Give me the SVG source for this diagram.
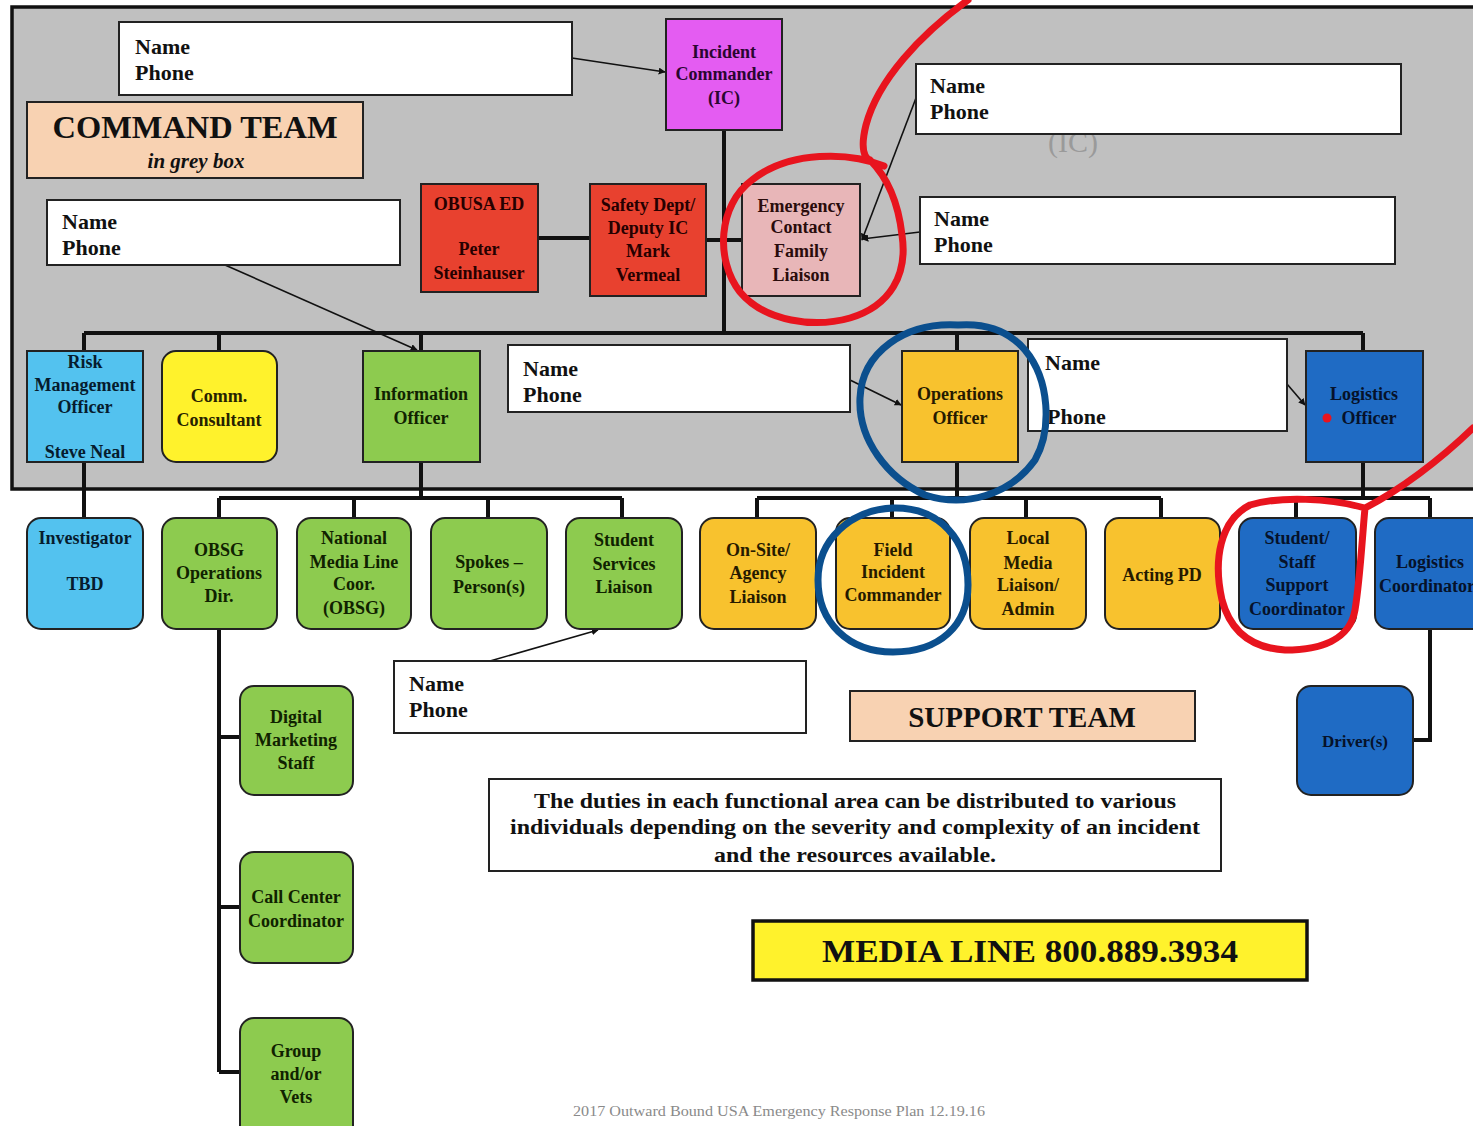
<svg xmlns="http://www.w3.org/2000/svg" width="1473" height="1126" viewBox="0 0 1473 1126">
<defs>
<marker id="ah" viewBox="0 0 10 10" refX="9" refY="5" markerWidth="7" markerHeight="7" orient="auto" markerUnits="userSpaceOnUse">
<path d="M0,0 L10,5 L0,10 z" fill="#111"/>
</marker>
<style>
text{font-family:"Liberation Serif","Times New Roman",serif;font-weight:bold}
.np{fill:#fff;stroke:#222;stroke-width:2}
.npt{font-size:22px;fill:#111}
.bx{stroke:#222;stroke-width:2}
.nt{font-size:18px;text-anchor:middle}
.org{stroke:#111;stroke-width:4;fill:none}
.arr{stroke:#111;stroke-width:1.6;fill:none;marker-end:url(#ah)}
.mag{fill:#E45CF2}.magt{fill:#2a0630}
.red{fill:#E8412F}.redt{fill:#260000}
.pnk{fill:#E8B6B8}.pnkt{fill:#2a0c0c}
.lb{fill:#53C2EF}.lbt{fill:#061c2e}
.yel{fill:#FFF22C}.yelt{fill:#262200}
.grn{fill:#8DCB4F}.grnt{fill:#102200}
.org2{fill:#F8C22E}.orgt{fill:#261a00}
.blu{fill:#1F6BC4}.blut{fill:#06122a}
.ann{fill:none;stroke-width:7;stroke-linecap:round;stroke-linejoin:round}
</style>
</defs>
<rect x="0" y="0" width="1473" height="1126" fill="#fff"/>
<rect x="12" y="7" width="1475" height="482" fill="#C0C0C0" stroke="#111" stroke-width="3.5"/>
<text x="1073" y="152" font-size="30" fill="#9a9a9a" text-anchor="middle" style="font-weight:normal">(IC)</text>

<g id="connectors">
<path class="org" d="M724,130 V333"/>
<path class="org" d="M84,333 H1363"/>
<path class="org" d="M84,333 V351 M219,333 V351 M421,333 V351 M957,333 V351 M1363,333 V351"/>
<path class="org" d="M538,238 H590 M706,240 H742"/>
<path class="org" d="M84,462 V518"/>
<path class="org" d="M421,462 V498 M219,498 H622 M219,498 V518 M354,498 V518 M488,498 V518 M622,498 V518"/>
<path class="org" d="M957,462 V498 M757,498 H1161 M757,498 V518 M892,498 V518 M1026,498 V518 M1161,498 V518"/>
<path class="org" d="M1363,462 V498 M1296,498 H1430 M1296,498 V518 M1430,498 V518"/>
<path class="org" d="M219,629 V1072 M219,737 H240 M219,907 H240 M219,1072 H240"/>
<path class="org" d="M1430,629 V740 H1413"/>
<path class="arr" d="M572,58 L665,72"/>
<path class="arr" d="M225,265 L417,350"/>
<path class="arr" d="M916,98 L862,240"/>
<path class="arr" d="M920,232 L862,239"/>
<path class="arr" d="M850,380 L901,405"/>
<path class="arr" d="M1287,384 L1305,405"/>
<path class="arr" d="M490,661 L598,630"/>
</g>

<g id="np1"><rect class="np" x="119" y="22" width="453" height="73"/><text class="npt" x="135" y="54">Name</text><text class="npt" x="135" y="80">Phone</text></g>
<g id="command-team"><rect x="27" y="102" width="336" height="76" fill="#F8D2B2" stroke="#222" stroke-width="2"/><text x="195" y="138" font-size="32" text-anchor="middle" fill="#111" textLength="285" lengthAdjust="spacingAndGlyphs">COMMAND TEAM</text><text x="196" y="168" font-size="21" text-anchor="middle" font-style="italic" fill="#111">in grey box</text></g>
<g id="np2"><rect class="np" x="47" y="200" width="353" height="65"/><text class="npt" x="62" y="229">Name</text><text class="npt" x="62" y="255">Phone</text></g>
<g id="np3"><rect class="np" x="916" y="64" width="485" height="70"/><text class="npt" x="930" y="93">Name</text><text class="npt" x="930" y="119">Phone</text></g>
<g id="np4"><rect class="np" x="920" y="197" width="475" height="67"/><text class="npt" x="934" y="226">Name</text><text class="npt" x="934" y="252">Phone</text></g>
<g id="np5"><rect class="np" x="508" y="345" width="342" height="67"/><text class="npt" x="523" y="376">Name</text><text class="npt" x="523" y="402">Phone</text></g>
<g id="np6"><rect class="np" x="1028" y="339" width="259" height="92"/><text class="npt" x="1045" y="370">Name</text><text class="npt" x="1047" y="424">Phone</text></g>
<g id="np7"><rect class="np" x="394" y="661" width="412" height="72"/><text class="npt" x="409" y="691">Name</text><text class="npt" x="409" y="717">Phone</text></g>

<g id="ic"><rect class="bx mag" x="666" y="19" width="116" height="111"/><text class="nt magt" x="724" y="58">Incident</text><text class="nt magt" x="724" y="80">Commander</text><text class="nt magt" x="724" y="104">(IC)</text></g>
<g id="obusa"><rect class="bx red" x="421" y="184" width="117" height="108"/><text class="nt redt" x="479" y="210">OBUSA ED</text><text class="nt redt" x="479" y="255">Peter</text><text class="nt redt" x="479" y="279">Steinhauser</text></g>
<g id="safety"><rect class="bx red" x="590" y="184" width="116" height="112"/><text class="nt redt" x="648" y="211">Safety Dept/</text><text class="nt redt" x="648" y="234">Deputy IC</text><text class="nt redt" x="648" y="257">Mark</text><text class="nt redt" x="648" y="281">Vermeal</text></g>
<g id="ecfl"><rect class="bx pnk" x="742" y="184" width="118" height="112"/><text class="nt pnkt" x="801" y="212">Emergency</text><text class="nt pnkt" x="801" y="233">Contact</text><text class="nt pnkt" x="801" y="257">Family</text><text class="nt pnkt" x="801" y="281">Liaison</text></g>

<g id="risk"><rect class="bx lb" x="27" y="351" width="116" height="111"/><text class="nt lbt" x="85" y="368">Risk</text><text class="nt lbt" x="85" y="391">Management</text><text class="nt lbt" x="85" y="413">Officer</text><text class="nt lbt" x="85" y="458">Steve Neal</text></g>
<g id="comm"><rect class="bx yel" x="162" y="351" width="115" height="111" rx="14"/><text class="nt yelt" x="219" y="402">Comm.</text><text class="nt yelt" x="219" y="426">Consultant</text></g>
<g id="info"><rect class="bx grn" x="363" y="351" width="117" height="111"/><text class="nt grnt" x="421" y="400">Information</text><text class="nt grnt" x="421" y="424">Officer</text></g>
<g id="ops"><rect class="bx org2" x="902" y="351" width="116" height="111"/><text class="nt orgt" x="960" y="400">Operations</text><text class="nt orgt" x="960" y="424">Officer</text></g>
<g id="logistics"><rect class="bx blu" x="1306" y="351" width="117" height="111"/><text class="nt blut" x="1364" y="400">Logistics</text><text class="nt blut" x="1369" y="424">Officer</text><circle cx="1327" cy="418" r="4.5" fill="#E8141E"/></g>

<g id="investigator"><rect class="bx lb" x="27" y="518" width="116" height="111" rx="14"/><text class="nt lbt" x="85" y="544">Investigator</text><text class="nt lbt" x="85" y="590">TBD</text></g>
<g id="obsg"><rect class="bx grn" x="162" y="518" width="115" height="111" rx="14"/><text class="nt grnt" x="219" y="556">OBSG</text><text class="nt grnt" x="219" y="579">Operations</text><text class="nt grnt" x="219" y="602">Dir.</text></g>
<g id="national"><rect class="bx grn" x="297" y="518" width="114" height="111" rx="14"/><text class="nt grnt" x="354" y="544">National</text><text class="nt grnt" x="354" y="568">Media Line</text><text class="nt grnt" x="354" y="590">Coor.</text><text class="nt grnt" x="354" y="614">(OBSG)</text></g>
<g id="spokes"><rect class="bx grn" x="431" y="518" width="116" height="111" rx="14"/><text class="nt grnt" x="489" y="568">Spokes –</text><text class="nt grnt" x="489" y="593">Person(s)</text></g>
<g id="studserv"><rect class="bx grn" x="566" y="518" width="116" height="111" rx="14"/><text class="nt grnt" x="624" y="546">Student</text><text class="nt grnt" x="624" y="570">Services</text><text class="nt grnt" x="624" y="593">Liaison</text></g>
<g id="onsite"><rect class="bx org2" x="700" y="518" width="116" height="111" rx="14"/><text class="nt orgt" x="758" y="556">On-Site/</text><text class="nt orgt" x="758" y="579">Agency</text><text class="nt orgt" x="758" y="603">Liaison</text></g>
<g id="fieldic"><rect class="bx org2" x="836" y="518" width="114" height="111" rx="14"/><text class="nt orgt" x="893" y="556">Field</text><text class="nt orgt" x="893" y="578">Incident</text><text class="nt orgt" x="893" y="601">Commander</text></g>
<g id="localmedia"><rect class="bx org2" x="970" y="518" width="116" height="111" rx="14"/><text class="nt orgt" x="1028" y="544">Local</text><text class="nt orgt" x="1028" y="569">Media</text><text class="nt orgt" x="1028" y="591">Liaison/</text><text class="nt orgt" x="1028" y="615">Admin</text></g>
<g id="actingpd"><rect class="bx org2" x="1105" y="518" width="115" height="111" rx="14"/><text class="nt orgt" x="1162" y="581">Acting PD</text></g>
<g id="studstaff"><rect class="bx blu" x="1239" y="518" width="117" height="111" rx="14"/><text class="nt blut" x="1297" y="544">Student/</text><text class="nt blut" x="1297" y="568">Staff</text><text class="nt blut" x="1297" y="591">Support</text><text class="nt blut" x="1297" y="615">Coordinator</text></g>
<g id="logcoord"><rect class="bx blu" x="1375" y="518" width="115" height="111" rx="14"/><text class="nt blut" x="1430" y="568">Logistics</text><text class="nt blut" x="1427" y="592">Coordinator</text></g>

<g id="digital"><rect class="bx grn" x="240" y="686" width="113" height="109" rx="14"/><text class="nt grnt" x="296" y="723">Digital</text><text class="nt grnt" x="296" y="746">Marketing</text><text class="nt grnt" x="296" y="769">Staff</text></g>
<g id="callcenter"><rect class="bx grn" x="240" y="852" width="113" height="111" rx="14"/><text class="nt grnt" x="296" y="903">Call Center</text><text class="nt grnt" x="296" y="927">Coordinator</text></g>
<g id="group"><rect class="bx grn" x="240" y="1018" width="113" height="122" rx="14"/><text class="nt grnt" x="296" y="1057">Group</text><text class="nt grnt" x="296" y="1080">and/or</text><text class="nt grnt" x="296" y="1103">Vets</text></g>
<g id="driver"><rect class="bx blu" x="1297" y="686" width="116" height="109" rx="14"/><text class="nt blut" x="1355" y="747" style="font-size:17px">Driver(s)</text></g>

<g id="support-team"><rect x="850" y="691" width="345" height="50" fill="#F8D2B2" stroke="#222" stroke-width="2"/><text x="1022" y="727" font-size="29" text-anchor="middle" fill="#111">SUPPORT TEAM</text></g>
<g id="duties"><rect x="489" y="779" width="732" height="92" fill="#fff" stroke="#222" stroke-width="2"/>
<text x="855" y="808" font-size="20" text-anchor="middle" fill="#111" textLength="642" lengthAdjust="spacingAndGlyphs">The duties in each functional area can be distributed to various</text>
<text x="855" y="834" font-size="20" text-anchor="middle" fill="#111" textLength="690" lengthAdjust="spacingAndGlyphs">individuals depending on the severity and complexity of an incident</text>
<text x="855" y="862" font-size="20" text-anchor="middle" fill="#111" textLength="282" lengthAdjust="spacingAndGlyphs">and the resources available.</text></g>
<g id="media-line"><rect x="753" y="921" width="554" height="59" fill="#FFF22C" stroke="#111" stroke-width="3.5"/><text x="1030" y="962" font-size="32" text-anchor="middle" fill="#111" textLength="416" lengthAdjust="spacingAndGlyphs">MEDIA LINE 800.889.3934</text></g>
<text x="779" y="1116" font-size="14" text-anchor="middle" fill="#8a8a8a" style="font-weight:normal" textLength="412" lengthAdjust="spacingAndGlyphs">2017 Outward Bound USA Emergency Response Plan 12.19.16</text>

<g id="annotations">
<path class="ann" stroke="#E8141E" d="M968,0 C920,35 878,80 866,125 C861,145 862,158 872,162 M884,166 C850,152 790,150 752,180 C718,205 715,260 740,292 C765,322 815,328 850,318 C890,306 908,275 902,235 C898,200 885,175 870,160"/>
<path class="ann" stroke="#0B4F8E" d="M958,325 C905,322 862,352 860,398 C858,440 888,478 925,495 C965,508 1010,495 1035,460 C1052,430 1050,380 1025,350 C1008,330 985,323 958,325 Z"/>
<path class="ann" stroke="#0B4F8E" d="M893,508 C850,510 818,540 818,580 C818,622 848,652 893,652 C940,652 968,625 968,585 C968,540 940,507 893,508 Z"/>
<path class="ann" stroke="#E8141E" d="M1473,428 C1440,460 1400,490 1365,508 C1330,498 1280,496 1250,505 C1220,520 1213,560 1222,600 C1230,630 1250,648 1285,650 C1320,650 1350,640 1355,610 C1360,580 1362,540 1365,508"/>
</g>
</svg>
